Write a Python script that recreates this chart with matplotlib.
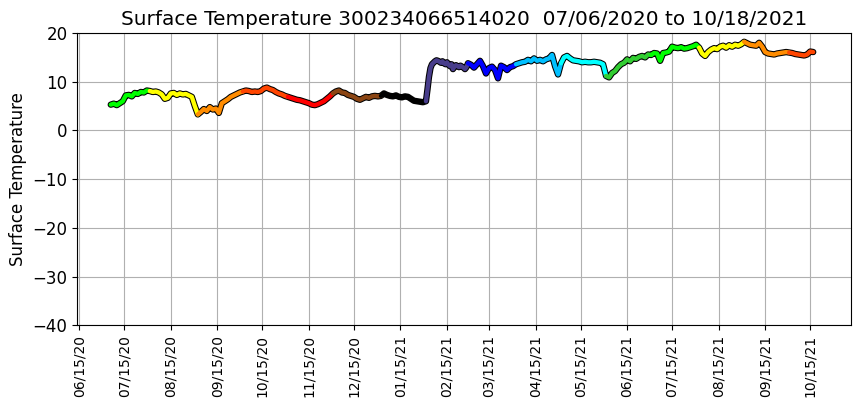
import numpy as np
import pandas as pd
import matplotlib
matplotlib.use("Agg")
from matplotlib import pyplot as plt
import matplotlib.dates as mdates

# buoy id i raspon datuma
buoy_id = "300234066514020"
date_from = "07/06/2020"
date_to = "10/18/2021"

# pocetak svakog mjeseca podataka, korak u danima i boja mjeseca
month_starts = ["2020-07-06", "2020-08-01", "2020-09-02", "2020-10-02", "2020-11-01",
                "2020-12-01", "2021-01-02", "2021-02-01", "2021-03-01", "2021-04-02",
                "2021-05-02", "2021-06-01", "2021-07-01", "2021-08-02", "2021-09-01",
                "2021-10-01"]
month_steps = [2, 2, 2, 2, 2, 2, 2, 1, 2, 2, 2, 2, 2, 2, 2, 2]
month_colors = ["lime", "yellow", "darkorange", "orangered", "red", "saddlebrown",
                "black", "darkslateblue", "blue", "deepskyblue", "cyan", "limegreen",
                "lime", "yellow", "darkorange", "orangered"]

# temperature po mjesecima (ocitano sa slike)
t_2020_07 = [5.3, 5.5, 5.2, 5.6, 6.0, 7.2, 7.3, 7.0, 7.7, 7.5, 7.9, 7.8, 8.2]
t_2020_08 = [8.1, 7.9, 8.0, 7.8, 7.4, 6.5, 6.7, 7.6, 7.7, 7.3, 7.6, 7.4, 7.5, 7.2, 6.9, 5.0]
t_2020_09 = [3.3, 3.8, 4.4, 4.0, 4.8, 4.3, 4.5, 3.6, 5.6, 6.0, 6.4, 6.9, 7.2, 7.5, 7.8]
t_2020_10 = [8.0, 8.2, 8.1, 7.9, 8.0, 7.9, 8.1, 8.6, 8.8, 8.5, 8.3, 7.9, 7.6, 7.4, 7.1]
t_2020_11 = [6.9, 6.7, 6.5, 6.3, 6.2, 6.0, 5.8, 5.6, 5.3, 5.2, 5.4, 5.7, 6.0, 6.5, 7.0]
t_2020_12 = [7.6, 8.0, 8.2, 7.8, 7.7, 7.3, 7.1, 6.9, 6.5, 6.3, 6.6, 6.9, 6.7, 7.0, 7.1, 7.0]
t_2021_01 = [7.1, 7.6, 7.3, 7.1, 7.0, 7.2, 6.9, 6.8, 7.0, 6.9, 6.5, 6.1, 6.0, 5.9, 5.8]
t_2021_02 = [6.0, 8.4, 11.0, 12.8, 13.6, 13.9, 14.2, 14.4, 14.3, 14.1, 13.9, 14.2, 13.8, 13.6,
             14.0, 13.5, 13.2, 13.6, 12.6, 13.1, 13.4, 13.2, 13.0, 13.3, 13.1, 12.9, 12.6, 13.0]
t_2021_03 = [13.8, 13.5, 12.9, 13.6, 14.3, 13.2, 11.7, 12.8, 13.1, 12.4, 10.7, 13.3, 13.0,
             12.4, 13.0, 13.2]
t_2021_04 = [13.6, 13.8, 14.0, 14.1, 14.5, 14.2, 14.8, 14.3, 14.5, 14.2, 14.6, 14.8, 15.5, 13.2, 11.5]
t_2021_05 = [13.8, 15.0, 15.3, 14.8, 14.4, 14.3, 14.2, 14.0, 14.1, 14.0, 14.0, 14.1, 14.0, 13.9, 13.6]
t_2021_06 = [11.2, 10.9, 11.8, 12.2, 13.0, 13.6, 13.9, 14.6, 14.2, 14.9, 14.7, 15.1, 15.3, 15.0, 15.6]
t_2021_07 = [15.5, 15.9, 15.8, 14.3, 15.9, 16.0, 16.2, 17.2, 17.0, 16.9, 17.1, 16.8, 16.9, 17.1,
             17.3, 17.6]
t_2021_08 = [17.0, 15.8, 15.3, 16.1, 16.6, 16.9, 16.7, 17.2, 17.4, 17.0, 17.5, 17.2, 17.6, 17.4, 17.7]
t_2021_09 = [18.2, 17.9, 17.6, 17.5, 17.4, 18.0, 17.2, 16.1, 15.8, 15.7, 15.6, 15.8, 15.9, 16.0, 16.1]
t_2021_10 = [16.0, 15.9, 15.7, 15.6, 15.5, 15.4, 15.6, 16.2, 16.1]

months = [t_2020_07, t_2020_08, t_2020_09, t_2020_10, t_2020_11, t_2020_12, t_2021_01,
          t_2021_02, t_2021_03, t_2021_04, t_2021_05, t_2021_06, t_2021_07, t_2021_08,
          t_2021_09, t_2021_10]

# datumi za svaki mjesec
month_dates = [pd.date_range(s, periods=len(t), freq="%dD" % k)
               for s, k, t in zip(month_starts, month_steps, months)]
all_dates = np.concatenate([d.values for d in month_dates])
all_temps = np.concatenate(months)

fig = plt.figure(figsize=(8.6, 4.08), dpi=100)
ax = fig.add_axes([0.0899, 0.2027, 0.8993, 0.7163])

# crni obrub ispod cijele serije
ax.plot(all_dates, all_temps, color="black", lw=4.6, solid_capstyle="round",
        solid_joinstyle="round", zorder=3)

# obojani mjeseci, svaki spojen na prvu tocku sljedeceg
for i in range(len(months)):
    d = list(month_dates[i])
    t = list(months[i])
    if i + 1 < len(months):
        d.append(month_dates[i + 1][0])
        t.append(months[i + 1][0])
    ax.plot(d, t, color=month_colors[i], lw=3.1, solid_capstyle="round",
            solid_joinstyle="round", zorder=4)

ax.set_ylim(-40, 20)
ax.set_xlim(pd.Timestamp("2020-06-13 17:00"), pd.Timestamp("2021-11-11"))
ax.xaxis.set_major_locator(mdates.MonthLocator(bymonthday=15))
ax.xaxis.set_major_formatter(mdates.DateFormatter("%m/%d/%y"))
plt.setp(ax.get_xticklabels(), rotation=90, fontsize=10)
ax.tick_params(axis="y", labelsize=12)
ax.grid(True)
ax.set_axisbelow(True)

ax.set_ylabel("Surface Temperature", fontsize=12)
ax.set_title("Surface Temperature %s  %s to %s" % (buoy_id, date_from, date_to), fontsize=14.4)

fig.savefig("out.png", dpi=100)
